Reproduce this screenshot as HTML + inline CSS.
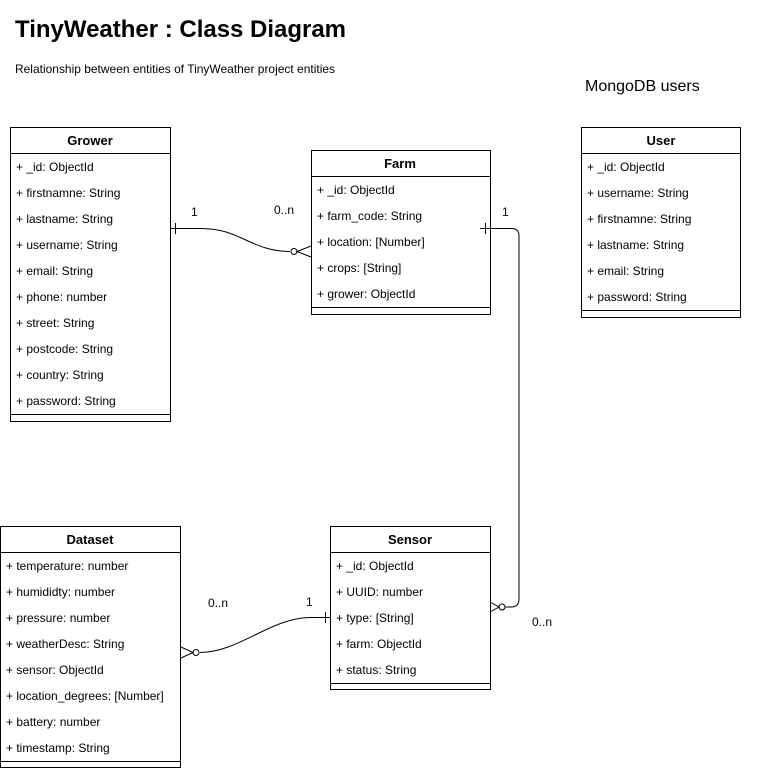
<!DOCTYPE html>
<html><head><style>
body{margin:0;background:#fff;width:761px;height:769px;overflow:hidden}
svg{font-family:"Liberation Sans",Arial,sans-serif}
</style></head><body>
<svg width="761" height="769" viewBox="0 0 761 769" xmlns="http://www.w3.org/2000/svg">
<text x="15" y="37" font-size="24" font-weight="bold" textLength="331" lengthAdjust="spacingAndGlyphs">TinyWeather : Class Diagram</text>
<text x="15" y="73" font-size="12" textLength="320" lengthAdjust="spacingAndGlyphs">Relationship between entities of TinyWeather project entities</text>
<text x="585" y="91" font-size="16">MongoDB users</text>
<g fill="#fff" stroke="#000" stroke-width="1">
<rect x="10.5" y="127.5" width="160" height="294"/>
<rect x="311.5" y="150.5" width="179" height="164"/>
<rect x="581.5" y="127.5" width="159" height="190"/>
<rect x="0.5" y="526.5" width="180" height="241"/>
<rect x="330.5" y="526.5" width="160" height="163"/>
</g>
<g stroke="#000" stroke-width="1">
<line x1="10" y1="153.5" x2="171" y2="153.5"/><line x1="10" y1="414.5" x2="171" y2="414.5"/>
<line x1="311" y1="176.5" x2="491" y2="176.5"/><line x1="311" y1="307.5" x2="491" y2="307.5"/>
<line x1="581" y1="153.5" x2="741" y2="153.5"/><line x1="581" y1="310.5" x2="741" y2="310.5"/>
<line x1="0" y1="552.5" x2="181" y2="552.5"/><line x1="0" y1="761.5" x2="181" y2="761.5"/>
<line x1="330" y1="552.5" x2="491" y2="552.5"/><line x1="330" y1="683.5" x2="491" y2="683.5"/>
</g>
<g font-size="13" font-weight="bold" text-anchor="middle">
<text x="90" y="145">Grower</text><text x="400" y="168">Farm</text><text x="661" y="145">User</text>
<text x="90" y="544">Dataset</text><text x="410" y="544">Sensor</text>
</g>
<g font-size="12">
<text x="16" y="171">+ _id: ObjectId</text><text x="16" y="197">+ firstnamne: String</text><text x="16" y="223">+ lastname: String</text><text x="16" y="249">+ username: String</text><text x="16" y="275">+ email: String</text><text x="16" y="301">+ phone: number</text><text x="16" y="327">+ street: String</text><text x="16" y="353">+ postcode: String</text><text x="16" y="379">+ country: String</text><text x="16" y="405">+ password: String</text>
<text x="317" y="194">+ _id: ObjectId</text><text x="317" y="220">+ farm_code: String</text><text x="317" y="246">+ location: [Number]</text><text x="317" y="272">+ crops: [String]</text><text x="317" y="298">+ grower: ObjectId</text>
<text x="587" y="171">+ _id: ObjectId</text><text x="587" y="197">+ username: String</text><text x="587" y="223">+ firstnamne: String</text><text x="587" y="249">+ lastname: String</text><text x="587" y="275">+ email: String</text><text x="587" y="301">+ password: String</text>
<text x="6" y="570">+ temperature: number</text><text x="6" y="596">+ humididty: number</text><text x="6" y="622">+ pressure: number</text><text x="6" y="648">+ weatherDesc: String</text><text x="6" y="674">+ sensor: ObjectId</text><text x="6" y="700">+ location_degrees: [Number]</text><text x="6" y="726">+ battery: number</text><text x="6" y="752">+ timestamp: String</text>
<text x="336" y="570">+ _id: ObjectId</text><text x="336" y="596">+ UUID: number</text><text x="336" y="622">+ type: [String]</text><text x="336" y="648">+ farm: ObjectId</text><text x="336" y="674">+ status: String</text>
<text x="191" y="216">1</text><text x="274" y="214">0..n</text><text x="502" y="216">1</text>
<text x="208" y="607">0..n</text><text x="306" y="606">1</text><text x="532" y="626">0..n</text>
</g>
<g fill="none" stroke="#000" stroke-width="1">
<path d="M171 228.5 H200 C240 228 250 251 290 251.5"/><line x1="175.5" y1="223" x2="175.5" y2="234"/>
<circle cx="294" cy="251.5" r="3"/><path d="M311 246 L297 251.5 L311 257"/>
<path d="M480 228.5 H512 Q519 228.5 519 236 V599 Q519 607 511 607 H505"/><line x1="485.5" y1="223" x2="485.5" y2="234"/>
<circle cx="502" cy="607" r="3"/><path d="M490 602 L499 607 L490 612"/>
<path d="M330 617.5 H310 C270 618 240 652 200 652.5"/><line x1="325.5" y1="612" x2="325.5" y2="623"/>
<circle cx="196" cy="652.5" r="3"/><path d="M181 647 L193 652.5 L181 658"/>
</g>
</svg>
</body></html>
